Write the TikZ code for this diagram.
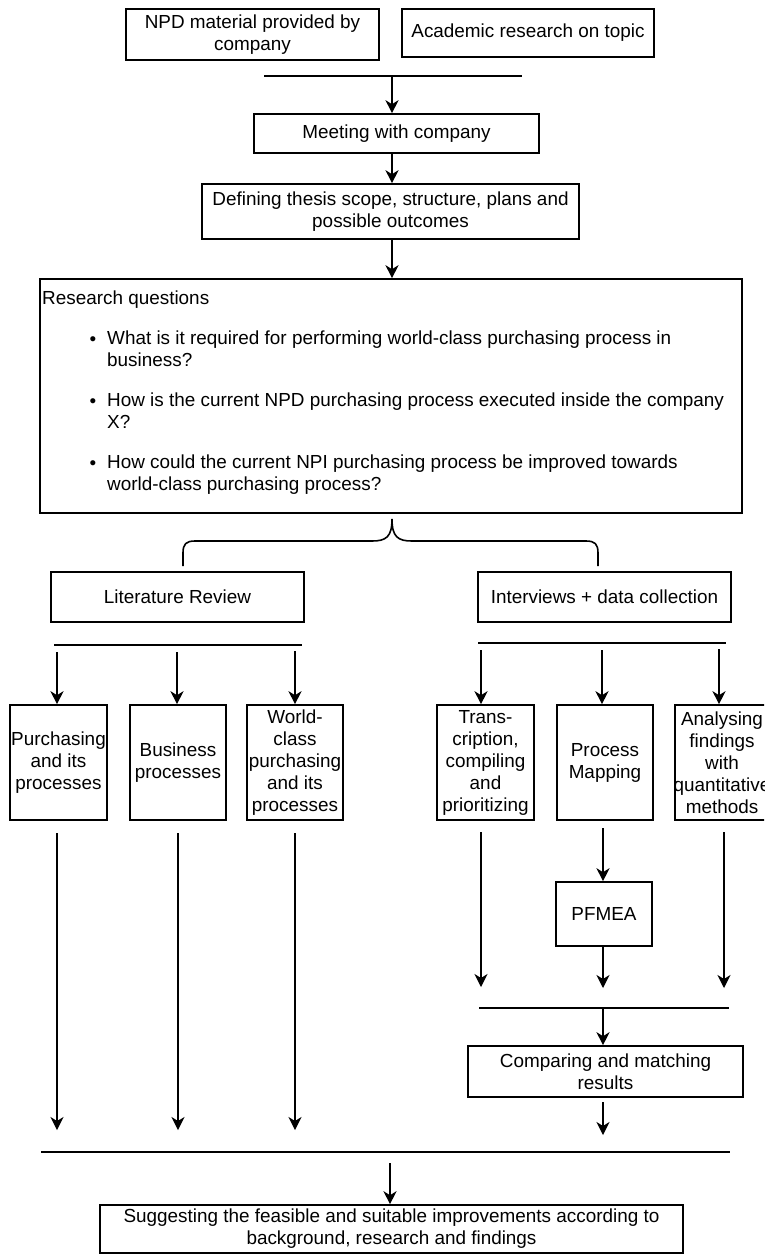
\documentclass[tikz,border=0pt]{standalone}
\usepackage{fontspec}
\setmainfont{Liberation Sans}
\usetikzlibrary{arrows.meta}
\newcommand\diafont{\fontsize{18.9}{22}\selectfont}
\begin{document}
\begin{tikzpicture}[x=1pt,y=-1pt,
  box/.style={draw, line width=1.6pt, inner sep=0pt, align=center, font=\diafont},
  arr/.style={-{Stealth[length=13pt,width=13pt,inset=4pt]}, line width=1.6pt},
  bar/.style={line width=1.6pt},
  txt/.style={inner sep=0pt, align=left, font=\diafont}]
\useasboundingbox (0,0) rectangle (764,1254);
\clip (0,0) rectangle (764,1254);
\fill[white] (0,0) rectangle (764,1254);

% --- sources and kick-off ---
\node[box, minimum width=253pt, minimum height=51pt] (npd) at (252.5,34.5) {NPD material provided by\\company};
\node[box, minimum width=252pt, minimum height=48pt] (acad) at (528,33) {Academic research on topic};
\node[box, minimum width=285pt, minimum height=39pt] (meet) at (396.5,133.5) {Meeting with company};
\node[box, minimum width=377pt, minimum height=55pt] (scope) at (390.5,211.5) {Defining thesis scope, structure, plans and\\possible outcomes};

\coordinate (topL) at (264,76);
\coordinate (topR) at (522,76);
\coordinate (topM) at (392,76);
\draw[bar] (topL) -- (topR);
\draw[arr] (topM) -- (topM |- meet.north);
\draw[arr] (topM |- meet.south) -- (topM |- scope.north);

% --- research questions ---
\node[box, minimum width=702pt, minimum height=234pt] (rq) at (391,396) {};
\draw[arr] (topM |- scope.south) -- (topM |- rq.north);
\node[txt, anchor=west] (rqt) at (42,300) {Research questions};
\node[txt, anchor=base] (d1) at (93,345) {•};
\node[txt, anchor=north west] (q1) at (107,331) {What is it required for performing world-class purchasing process in\\business?};
\node[txt, anchor=base] (d2) at (93,407) {•};
\node[txt, anchor=north west] (q2) at (107,393) {How is the current NPD purchasing process executed inside the company\\X?};
\node[txt, anchor=base] (d3) at (93,469) {•};
\node[txt, anchor=north west] (q3) at (107,455) {How could the current NPI purchasing process be improved towards\\world-class purchasing process?};

% brace splitting into the two work streams
\draw[bar] (183,566) -- (183,553) .. controls (183,544) and (186,541) .. (195,541)
  -- (372,541) .. controls (386,541) and (392,537) .. (392,519)
  .. controls (392,537) and (398,541) .. (412,541)
  -- (586,541) .. controls (595,541) and (598,544) .. (598,553) -- (598,566);

% --- literature stream ---
\node[box, minimum width=253pt, minimum height=50pt] (lit) at (177.5,597) {Literature Review};
\node[box, minimum width=97pt, minimum height=115pt] (purch) at (58.5,762.5) {Purchasing\\and its\\processes};
\node[box, minimum width=96pt, minimum height=115pt] (bus) at (178,762.5) {Business\\processes};
\node[box, minimum width=96pt, minimum height=115pt] (world) at (295,762.5) {World-\\class\\purchasing\\and its\\processes};

\coordinate (litL) at (54,645);
\coordinate (litR) at (302,645);
\draw[bar] (litL) -- (litR);
\coordinate (la) at (57,652);
\coordinate (lb) at (177,652);
\coordinate (lc) at (295,651);
\draw[arr] (la) -- (la |- purch.north);
\draw[arr] (lb) -- (lb |- bus.north);
\draw[arr] (lc) -- (lc |- world.north);

% --- interview stream ---
\node[box, minimum width=253pt, minimum height=50pt] (intv) at (604.5,597) {Interviews + data collection};
\node[box, minimum width=97pt, minimum height=115pt] (trans) at (485.5,762.5) {Trans-\\cription,\\compiling\\and\\prioritizing};
\node[box, minimum width=96pt, minimum height=115pt] (pmap) at (605,762.5) {Process\\Mapping};
\node[box, minimum width=97pt, minimum height=115pt] (anal) at (723.5,762.5) {};
\begin{scope}
  % the label is wider than its box and is trimmed at the frame
  \clip ([xshift=0.8pt]anal.south west) rectangle ([xshift=-0.8pt]anal.north east);
  \node[box, draw=none] (analtxt) at (722,762.5) {Analysing\\findings\\with\\quantitative\\methods};
\end{scope}

\coordinate (intL) at (478,643);
\coordinate (intR) at (726,643);
\draw[bar] (intL) -- (intR);
\coordinate (ia) at (481,650);
\coordinate (ib) at (602,650);
\coordinate (ic) at (719,649);
\draw[arr] (ia) -- (ia |- trans.north);
\draw[arr] (ib) -- (ib |- pmap.north);
\draw[arr] (ic) -- (ic |- anal.north);

\node[box, minimum width=96pt, minimum height=64pt] (pfmea) at (604,914) {PFMEA};
\node[box, minimum width=275pt, minimum height=51pt] (comp) at (605.5,1071.5) {Comparing and matching\\results};

\coordinate (ta) at (481,832);
\coordinate (te) at (481,987);
\draw[arr] (ta) -- (te);
\coordinate (pa) at (603,828);
\draw[arr] (pa) -- (pa |- pfmea.north);
\coordinate (pe) at (603,988);
\draw[arr] (pa |- pfmea.south) -- (pe);
\coordinate (qa) at (724,832);
\coordinate (qe) at (724,988);
\draw[arr] (qa) -- (qe);

\coordinate (mrgL) at (479,1008);
\coordinate (mrgR) at (729,1008);
\coordinate (mrgM) at (603,1008);
\draw[bar] (mrgL) -- (mrgR);
\draw[arr] (mrgM) -- (mrgM |- comp.north);
\coordinate (ca) at (603,1102);
\coordinate (ce) at (603,1135);
\draw[arr] (ca) -- (ce);

% --- literature results carried down ---
\coordinate (pa1) at (57,833);
\coordinate (pe1) at (57,1130);
\coordinate (ba1) at (178,833);
\coordinate (be1) at (178,1130);
\coordinate (wa1) at (295,833);
\coordinate (we1) at (295,1130);
\draw[arr] (pa1) -- (pe1);
\draw[arr] (ba1) -- (be1);
\draw[arr] (wa1) -- (we1);

% --- final synthesis ---
\node[box, minimum width=583pt, minimum height=48pt] (final) at (391.5,1229) {Suggesting the feasible and suitable improvements according to\\background, research and findings};
\coordinate (endL) at (41,1152);
\coordinate (endR) at (730,1152);
\draw[bar] (endL) -- (endR);
\coordinate (fa) at (390,1163);
\draw[arr] (fa) -- (fa |- final.north);
\end{tikzpicture}
\end{document}
